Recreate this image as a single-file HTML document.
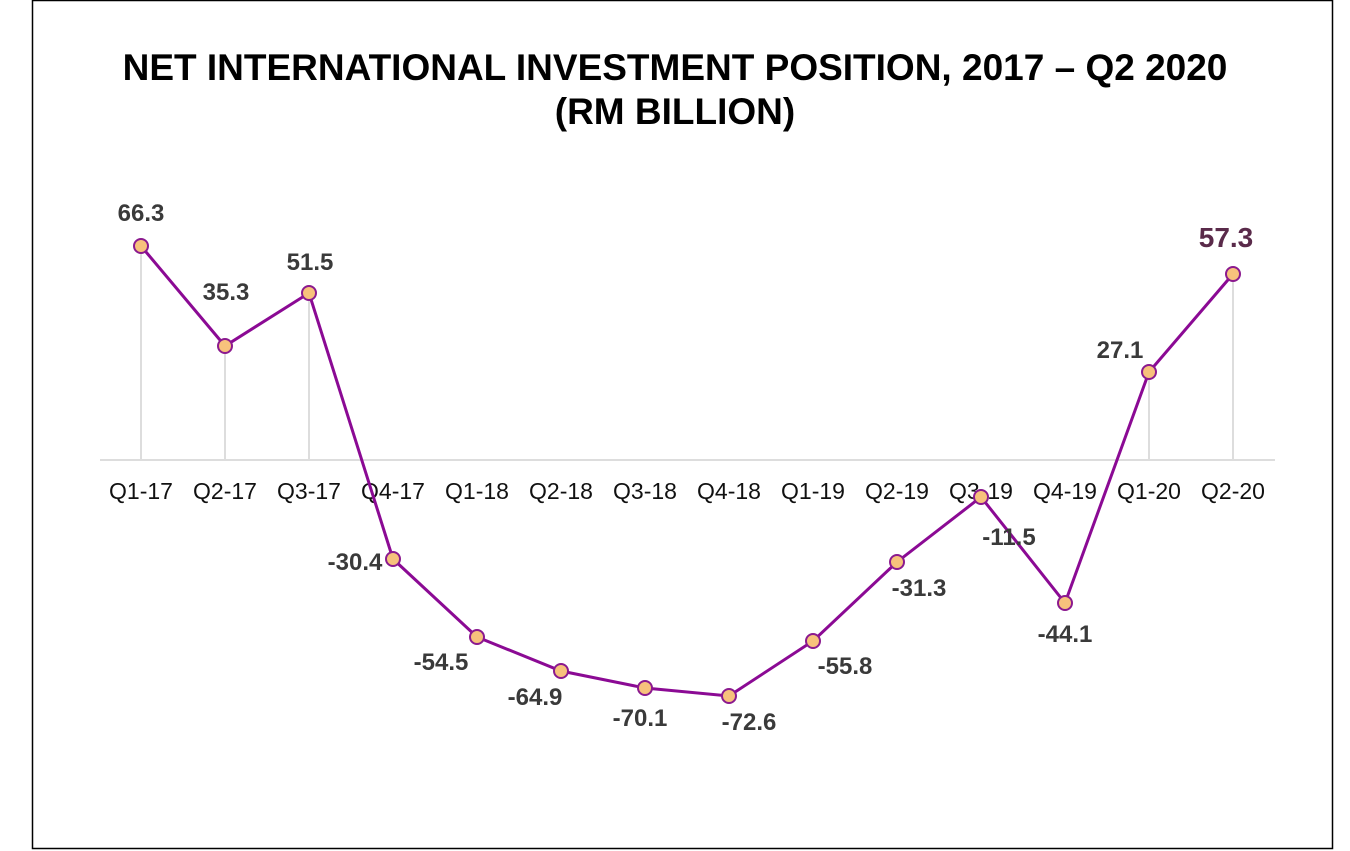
<!DOCTYPE html>
<html><head><meta charset="utf-8"><style>
html,body{margin:0;padding:0;background:#fff;}
svg{display:block;}
</style></head><body>
<svg width="1350" height="851" xmlns="http://www.w3.org/2000/svg" font-family="Liberation Sans, sans-serif">
<rect x="32.5" y="0.5" width="1300" height="848" fill="#fff" stroke="#000" stroke-width="1.5"/>
<text x="675" y="80" text-anchor="middle" font-size="37" font-weight="bold">NET INTERNATIONAL INVESTMENT POSITION, 2017 – Q2 2020</text>
<text x="675" y="124" text-anchor="middle" font-size="37" font-weight="bold">(RM BILLION)</text>
<g stroke="#ddd" stroke-width="2">
<line x1="141" y1="246" x2="141" y2="460"/><line x1="225" y1="346" x2="225" y2="460"/><line x1="309" y1="293" x2="309" y2="460"/>
<line x1="1149" y1="372" x2="1149" y2="460"/><line x1="1233" y1="274" x2="1233" y2="460"/>
</g>
<line x1="100" y1="460" x2="1275" y2="460" stroke="#ddd" stroke-width="2"/>
<g font-size="23" text-anchor="middle" fill="#111">
<text x="141" y="499">Q1-17</text><text x="225" y="499">Q2-17</text><text x="309" y="499">Q3-17</text><text x="393" y="499">Q4-17</text><text x="477" y="499">Q1-18</text><text x="561" y="499">Q2-18</text><text x="645" y="499">Q3-18</text><text x="729" y="499">Q4-18</text><text x="813" y="499">Q1-19</text><text x="897" y="499">Q2-19</text><text x="981" y="499">Q3-19</text><text x="1065" y="499">Q4-19</text><text x="1149" y="499">Q1-20</text><text x="1233" y="499">Q2-20</text>
</g>
<polyline fill="none" stroke="#8b0a94" stroke-width="3" points="141,246 225,346 309,293 393,559 477,637 561,671 645,688 729,696 813,641 897,562 981,497 1065,603 1149,372 1233,274"/>
<g fill="#f7c27c" stroke="#8b1a8f" stroke-width="2">
<circle cx="141" cy="246" r="7"/><circle cx="225" cy="346" r="7"/><circle cx="309" cy="293" r="7"/><circle cx="393" cy="559" r="7"/><circle cx="477" cy="637" r="7"/><circle cx="561" cy="671" r="7"/><circle cx="645" cy="688" r="7"/><circle cx="729" cy="696" r="7"/><circle cx="813" cy="641" r="7"/><circle cx="897" cy="562" r="7"/><circle cx="981" cy="497" r="7"/><circle cx="1065" cy="603" r="7"/><circle cx="1149" cy="372" r="7"/><circle cx="1233" cy="274" r="7"/>
</g>
<g font-size="24" font-weight="bold" text-anchor="middle" fill="#3a3a3a">
<text x="141" y="221">66.3</text><text x="226" y="300">35.3</text><text x="310" y="270">51.5</text>
<text x="355" y="570">-30.4</text><text x="441" y="670">-54.5</text><text x="535" y="705">-64.9</text><text x="640" y="726">-70.1</text><text x="749" y="730">-72.6</text><text x="845" y="674">-55.8</text><text x="919" y="596">-31.3</text><text x="1009" y="545">-11.5</text><text x="1065" y="642">-44.1</text><text x="1120" y="358">27.1</text>
<text x="1226" y="247" font-size="28" fill="#5a2a4a">57.3</text>
</g>
</svg>
</body></html>
